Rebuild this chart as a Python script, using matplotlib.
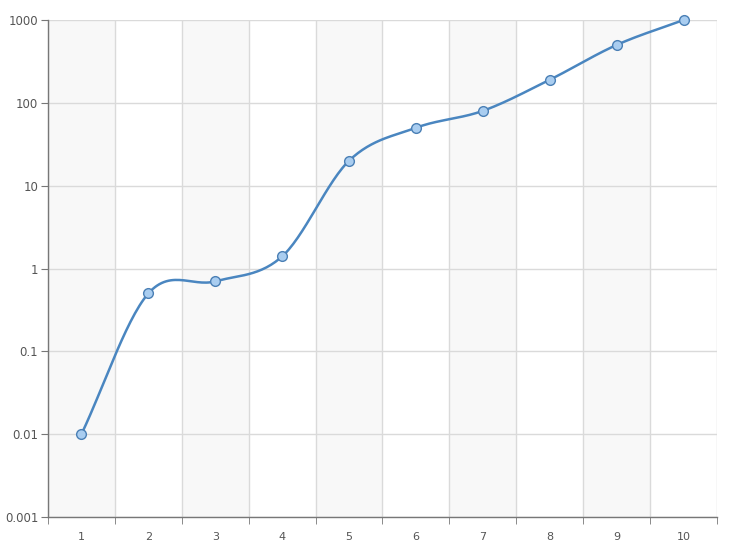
import numpy as np
import matplotlib.pyplot as plt
from matplotlib.ticker import FixedLocator, NullLocator

# data
categories = [1, 2, 3, 4, 5, 6, 7, 8, 9, 10]
values = [0.01, 0.5, 0.7, 1.4, 20, 50, 80, 190, 500, 1000]
y_ticks = [0.001, 0.01, 0.1, 1, 10, 100, 1000]
y_labels = ["0.001", "0.01", "0.1", "1", "10", "100", "1000"]


# smooth curve through the points (Catmull-Rom in log space)
def smooth_curve(xs, ys, steps=30):
    xs = np.asarray(xs, float)
    ly = np.log10(ys)
    px = np.concatenate([[2 * xs[0] - xs[1]], xs, [2 * xs[-1] - xs[-2]]])
    py = np.concatenate([[2 * ly[0] - ly[1]], ly, [2 * ly[-1] - ly[-2]]])
    out_x, out_y = [], []
    for i in range(1, len(px) - 2):
        t = np.linspace(0, 1, steps, endpoint=(i == len(px) - 3))
        for p, out in ((px, out_x), (py, out_y)):
            p0, p1, p2, p3 = p[i - 1], p[i], p[i + 1], p[i + 2]
            out.extend(0.5 * ((2 * p1) + (-p0 + p2) * t
                              + (2 * p0 - 5 * p1 + 4 * p2 - p3) * t ** 2
                              + (-p0 + 3 * p1 - 3 * p2 + p3) * t ** 3))
    return np.array(out_x), 10 ** np.array(out_y)


fig = plt.figure(figsize=(7.3, 5.55), dpi=100)
ax = fig.add_axes([48 / 730, 38 / 555, 669 / 730, 497 / 555])

# alternating bands
for i, c in enumerate(categories):
    if i % 2 == 0:
        ax.axvspan(c - 0.5, c + 0.5, color="#f8f8f8", zorder=0, lw=0)

ax.set_yscale("log")
ax.set_ylim(0.001, 1000)
ax.set_xlim(categories[0] - 0.5, categories[-1] + 0.5)

# grid
for b in np.arange(categories[0] - 0.5, categories[-1] + 1, 1):
    ax.axvline(b, color="#dadada", lw=1, zorder=1)
for yv in y_ticks:
    ax.axhline(yv, color="#dadada", lw=1, zorder=1)

sx, sy = smooth_curve(categories, values)
ax.plot(sx, sy, color="#4a86c0", lw=1.8, zorder=3, clip_on=False)
ax.plot(categories, values, "o", ms=7, mfc="#a9cdf0", mec="#4a7fb5",
        mew=1, zorder=4, clip_on=False)

ax.yaxis.set_major_locator(FixedLocator(y_ticks))
ax.yaxis.set_minor_locator(NullLocator())
ax.set_yticklabels(y_labels)
ax.set_xticks(categories)
ax.set_xticklabels([str(c) for c in categories])
ax.set_xticks(np.arange(categories[0] - 0.5, categories[-1] + 1, 1), minor=True)
ax.tick_params(axis="x", which="major", length=0, pad=11, labelsize=8, labelcolor="#555555")
ax.tick_params(axis="x", which="minor", length=5, color="#777777", direction="out")
ax.tick_params(axis="y", which="major", length=5, color="#777777", labelsize=8.5,
               labelcolor="#555555", pad=2)

for s in ["top", "right"]:
    ax.spines[s].set_visible(False)
for s in ["left", "bottom"]:
    ax.spines[s].set_color("#777777")
    ax.spines[s].set_linewidth(1)

fig.savefig("out.png", dpi=100)
